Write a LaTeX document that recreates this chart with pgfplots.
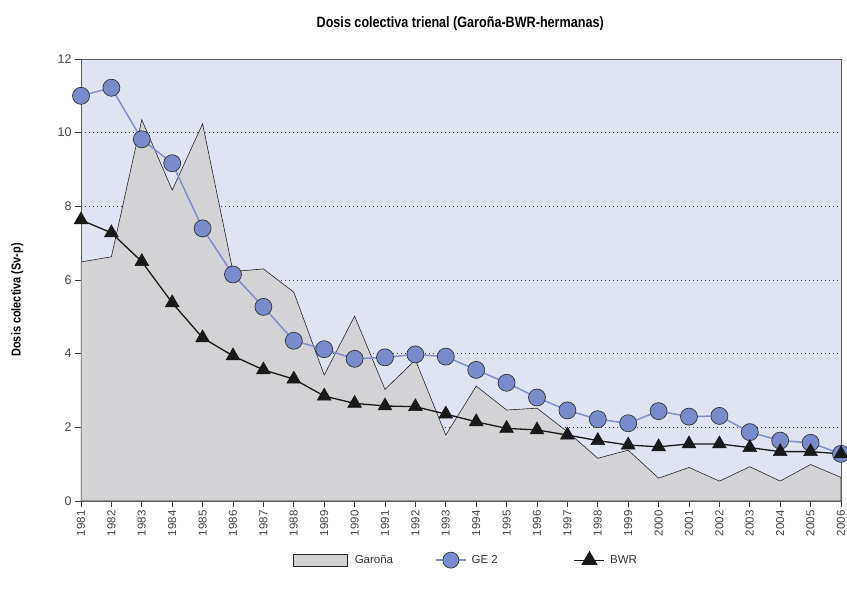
\documentclass[border=0pt]{standalone}
\usepackage{pgfplots}
\pgfplotsset{compat=1.18}
\usepackage{fontspec}
\setmainfont{Liberation Sans}
\newfontfamily\condfont{Liberation Sans}[FakeStretch=0.84]
\definecolor{bgc}{RGB}{224,227,242}
\definecolor{areac}{RGB}{211,211,213}
\definecolor{gec}{RGB}{128,144,204}
\definecolor{gemark}{RGB}{122,139,204}
\definecolor{axc}{RGB}{90,90,90}
\begin{document}
\begin{tikzpicture}
\useasboundingbox (-81pt,-95pt) rectangle (766pt,501pt);
\begin{axis}[
  at={(0pt,0pt)}, anchor=south west,
  scale only axis, width=760pt, height=442pt,
  xmin=1981, xmax=2006, ymin=0, ymax=12,
  axis background/.style={fill=bgc},
  axis line style={axc, line width=0.9pt},
  xtick={1981,...,2006},
  ytick={0,2,...,12},
  xtick pos=bottom, ytick pos=left,
  xticklabel style={rotate=90, anchor=east, font=\fontsize{11.5}{12}\selectfont, text=black!75, /pgf/number format/1000 sep=},
  yticklabel style={font=\fontsize{12.5}{14}\selectfont, text=black!75},
  /pgf/number format/assume math mode=true,
  tick align=outside, tick style={black!80, line width=0.8pt},
  major tick length=6pt,
  ymajorgrids, grid style={dash pattern=on 1.3pt off 2.7pt, black!75, line width=0.9pt},
  title={\condfont\bfseries Dosis colectiva trienal (Garoña-BWR-hermanas)},
  title style={font=\fontsize{15}{17}\selectfont, at={(axis description cs:0.499,1)}, yshift=19pt},
  ylabel={\condfont\bfseries Dosis colectiva (Sv-p)},
  ylabel style={font=\fontsize{13}{15}\selectfont, at={(axis description cs:-0.084,0.455)}, anchor=center},
  legend style={at={(axis description cs:0.2789,-0.1335)}, anchor=west, draw=none, fill=none, inner sep=0pt,
    legend columns=3, font=\fontsize{11.5}{13}\selectfont, text=black!80,
    /tikz/column 1/.style={column sep=5pt},
    /tikz/column 2/.style={column sep=40pt},
    /tikz/column 3/.style={column sep=3pt},
    /tikz/column 4/.style={column sep=74pt},
    /tikz/column 5/.style={column sep=3pt}},
  legend cell align=left,
  clip=true,
]
\addplot[fill=areac, draw=black!85, line width=0.6pt,
  area legend, legend image code/.code={\draw[fill=areac, draw=black!85, line width=0.6pt] (0pt,-6pt) rectangle (54pt,6pt);}]
 coordinates {
 (1981,6.49) (1982,6.63) (1983,10.35) (1984,8.44) (1985,10.24) (1986,6.23)
 (1987,6.30) (1988,5.67) (1989,3.42) (1990,5.02) (1991,3.03) (1992,3.83)
 (1993,1.79) (1994,3.12) (1995,2.47) (1996,2.52) (1997,1.88) (1998,1.16)
 (1999,1.38) (2000,0.62) (2001,0.91) (2002,0.54) (2003,0.93) (2004,0.54)
 (2005,0.99) (2006,0.64)} \closedcycle;
\addlegendentry{Garoña}
\addplot[gec, line width=1.5pt, mark=*, mark size=8.5pt,
  mark options={fill=gemark, draw=black!80, line width=0.7pt},
  legend image code/.code={\draw[gec, line width=1.5pt] (0pt,0pt) -- (30pt,0pt); \draw[fill=gemark, draw=black!80, line width=0.7pt] (15pt,0pt) circle (8pt);}]
 coordinates {
 (1981,11.00) (1982,11.22) (1983,9.82) (1984,9.17) (1985,7.40) (1986,6.15)
 (1987,5.27) (1988,4.35) (1989,4.12) (1990,3.86) (1991,3.90) (1992,3.98)
 (1993,3.92) (1994,3.56) (1995,3.21) (1996,2.81) (1997,2.46) (1998,2.22)
 (1999,2.11) (2000,2.44) (2001,2.29) (2002,2.31) (2003,1.87) (2004,1.64)
 (2005,1.58) (2006,1.28)};
\addlegendentry{GE 2}
\addplot[black!90, line width=1.3pt, mark=triangle*, mark size=8pt,
  mark options={fill=black!90, draw=black!90, line width=0.5pt},
  legend image code/.code={\draw[black!90, line width=1.3pt] (0pt,0pt) -- (30pt,0pt); \fill[black!90] (15pt,8pt) -- (8pt,-4pt) -- (22pt,-4pt) -- cycle;}]
 coordinates {
 (1981,7.63) (1982,7.28) (1983,6.50) (1984,5.38) (1985,4.43) (1986,3.94)
 (1987,3.56) (1988,3.31) (1989,2.85) (1990,2.65) (1991,2.58) (1992,2.56)
 (1993,2.36) (1994,2.15) (1995,1.97) (1996,1.93) (1997,1.79) (1998,1.64)
 (1999,1.52) (2000,1.47) (2001,1.55) (2002,1.55) (2003,1.45) (2004,1.34)
 (2005,1.34) (2006,1.28)};
\addlegendentry{BWR}
\end{axis}
\end{tikzpicture}
\end{document}
